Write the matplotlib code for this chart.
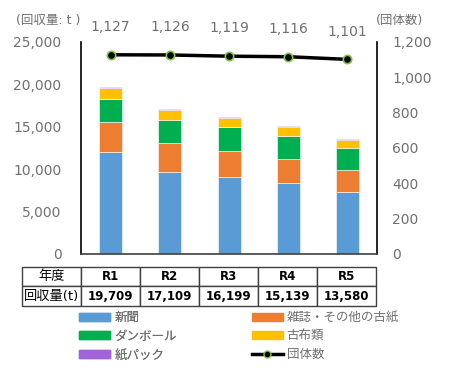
import numpy as np
import matplotlib
matplotlib.use("Agg")
import matplotlib.pyplot as plt
from matplotlib.lines import Line2D
from matplotlib.patches import Patch

plt.rcParams['font.family'] = ['DejaVu Sans', 'Noto Sans CJK JP']

# data
years = ['R1', 'R2', 'R3', 'R4', 'R5']
shinbun = [12050, 9700, 9040, 8410, 7310]
zasshi = [3550, 3350, 3110, 2790, 2560]
danboru = [2680, 2750, 2790, 2750, 2630]
kofu = [1260, 1180, 1130, 1060, 940]
kamipack = [169, 129, 129, 129, 140]
totals = ['19,709', '17,109', '16,199', '15,139', '13,580']
dantai = [1127, 1126, 1119, 1116, 1101]

series_names = ['新聞', '雑誌・その他の古紙', 'ダンボール', '古布類', '紙パック']
colors = ['#5B9BD5', '#ED7D31', '#00B050', '#FFC000', '#A064D8']
gray = '#707070'

fig = plt.figure(figsize=(4.5, 3.74), dpi=100)
ax = fig.add_axes([0.18, 0.321, 0.658, 0.567])
x = np.arange(len(years))
width = 0.39

bottom = np.zeros(len(years))
for vals, c in zip([shinbun, zasshi, danboru, kofu, kamipack], colors):
    ax.bar(x, vals, width, bottom=bottom, color=c, edgecolor='white', linewidth=0.4)
    bottom += np.array(vals)

ax.set_xlim(-0.5, 4.5)
ax.set_ylim(0, 25000)
ax.set_yticks(np.arange(0, 25001, 5000))
ax.set_yticklabels(['{:,}'.format(v) for v in range(0, 25001, 5000)])
ax.set_xticks([])
ax.tick_params(axis='y', length=0, pad=14, labelsize=10, labelcolor=gray)
ax.spines['top'].set_visible(False)
ax.spines['left'].set_color('black')
ax.spines['right'].set_color('black')
ax.spines['bottom'].set_color('#404040')
ax.spines['left'].set_linewidth(1.2)
ax.spines['right'].set_linewidth(1.2)
ax.spines['bottom'].set_linewidth(1.2)

ax2 = ax.twinx()
ax2.set_ylim(0, 1200)
ax2.set_yticks(np.arange(0, 1201, 200))
ax2.set_yticklabels(['{:,}'.format(v) for v in range(0, 1201, 200)])
ax2.tick_params(axis='y', length=0, pad=11, labelsize=10, labelcolor=gray)
for s in ['top', 'left', 'right', 'bottom']:
    ax2.spines[s].set_visible(False)
ax2.plot(x, dantai, color='black', linewidth=2.5, marker='o', markersize=6,
         markerfacecolor='black', markeredgecolor='#7CC54A', markeredgewidth=1.2)
for xi, v in zip(x, dantai):
    ax2.annotate('{:,}'.format(v), (xi, v), xytext=(0, 15), textcoords='offset points',
                 ha='center', va='bottom', fontsize=10, color=gray)

fig.text(0.035, 0.945, '(回収量: t )', fontsize=9, color=gray, ha='left', va='center')
fig.text(0.835, 0.945, '(団体数)', fontsize=9, color=gray, ha='left', va='center')

# table under the chart
cells = [['年度'] + years, ['回収量(t)'] + totals]
tbl = ax.table(cellText=cells, cellLoc='center', bbox=[-0.2, -0.245, 1.195, 0.184])
tbl.auto_set_font_size(False)
for (r, c), cell in tbl.get_celld().items():
    cell.set_edgecolor('#404040')
    cell.set_linewidth(1.0)
    txt = cell.get_text()
    if c == 0:
        txt.set_fontsize(9.5)
    else:
        txt.set_fontsize(8.5)
        txt.set_fontweight('bold')

# legend in two columns
h = [Patch(color=c) for c in colors]
line_h = Line2D([], [], color='black', linewidth=2.5, marker='o', markersize=5,
                markerfacecolor='black', markeredgecolor='#7CC54A')
leg_kw = dict(loc='upper left', frameon=False, fontsize=9, handlelength=2.5,
              handleheight=0.6, handletextpad=0.3, labelspacing=0.45,
              labelcolor=gray, borderpad=0)
leg1 = fig.legend([h[0], h[2], h[4]], [series_names[0], series_names[2], series_names[4]],
                  bbox_to_anchor=(0.162, 0.185), **leg_kw)
fig.add_artist(leg1)
fig.legend([h[1], h[3], line_h], [series_names[1], series_names[3], '団体数'],
           bbox_to_anchor=(0.545, 0.185), **leg_kw)

fig.savefig('out.png', dpi=100)
